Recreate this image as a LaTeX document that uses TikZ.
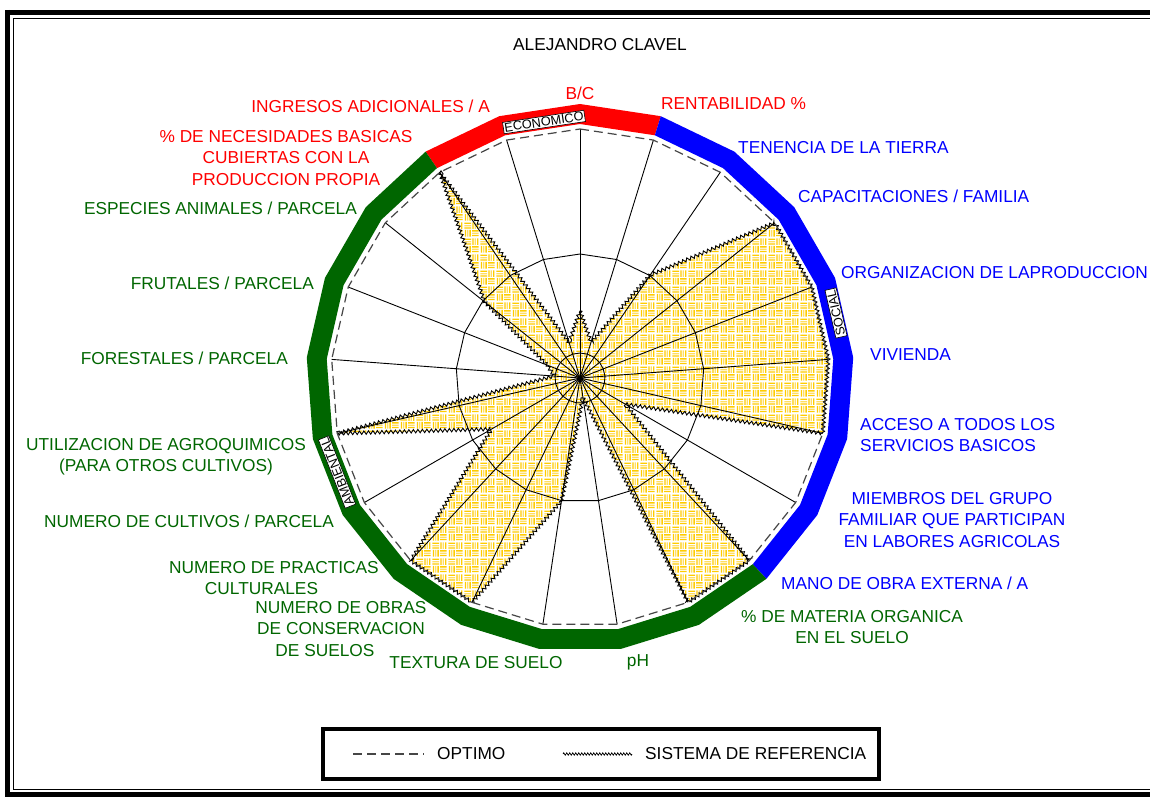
\documentclass[tikz,border=0pt]{standalone}
\usepackage{fontspec}
\setmainfont{Liberation Sans}
\usetikzlibrary{patterns,decorations.pathmorphing}

\definecolor{econred}{RGB}{255,0,0}
\definecolor{socblue}{RGB}{0,0,255}
\definecolor{ambgreen}{RGB}{0,102,0}
\definecolor{weaveyellow}{RGB}{255,204,0}
\definecolor{weavepale}{RGB}{255,222,100}
\definecolor{optgray}{RGB}{70,70,70}

% basket-weave fill: 2x2 blocks of three strokes, alternating direction
\pgfdeclarepatterninherentlycolored{weave}{\pgfpointorigin}{\pgfpoint{16pt}{16pt}}{\pgfpoint{16pt}{16pt}}{%
  \pgfsetfillcolor{white}%
  \pgfpathrectangle{\pgfpointorigin}{\pgfpoint{16pt}{16pt}}\pgfusepath{fill}%
  \pgfsetlinewidth{1.4pt}%
  \pgfsetstrokecolor{weaveyellow}%
  \pgfpathmoveto{\pgfpoint{1.5pt}{0.5pt}}\pgfpathlineto{\pgfpoint{1.5pt}{7.5pt}}%
  \pgfpathmoveto{\pgfpoint{6.5pt}{0.5pt}}\pgfpathlineto{\pgfpoint{6.5pt}{7.5pt}}%
  \pgfpathmoveto{\pgfpoint{9.5pt}{8.5pt}}\pgfpathlineto{\pgfpoint{9.5pt}{15.5pt}}%
  \pgfpathmoveto{\pgfpoint{14.5pt}{8.5pt}}\pgfpathlineto{\pgfpoint{14.5pt}{15.5pt}}%
  \pgfpathmoveto{\pgfpoint{8.5pt}{1.5pt}}\pgfpathlineto{\pgfpoint{15.5pt}{1.5pt}}%
  \pgfpathmoveto{\pgfpoint{8.5pt}{6.5pt}}\pgfpathlineto{\pgfpoint{15.5pt}{6.5pt}}%
  \pgfpathmoveto{\pgfpoint{0.5pt}{9.5pt}}\pgfpathlineto{\pgfpoint{7.5pt}{9.5pt}}%
  \pgfpathmoveto{\pgfpoint{0.5pt}{14.5pt}}\pgfpathlineto{\pgfpoint{7.5pt}{14.5pt}}%
  \pgfusepath{stroke}%
  \pgfsetstrokecolor{weavepale}%
  \pgfpathmoveto{\pgfpoint{4pt}{0.5pt}}\pgfpathlineto{\pgfpoint{4pt}{7.5pt}}%
  \pgfpathmoveto{\pgfpoint{12pt}{8.5pt}}\pgfpathlineto{\pgfpoint{12pt}{15.5pt}}%
  \pgfpathmoveto{\pgfpoint{8.5pt}{4pt}}\pgfpathlineto{\pgfpoint{15.5pt}{4pt}}%
  \pgfpathmoveto{\pgfpoint{0.5pt}{12pt}}\pgfpathlineto{\pgfpoint{7.5pt}{12pt}}%
  \pgfusepath{stroke}%
}

\tikzset{
  lab/.style={font=\fontsize{17.3}{21.3}\selectfont, inner sep=0pt},
  eco/.style={lab, text=econred},
  soc/.style={lab, text=socblue},
  amb/.style={lab, text=ambgreen},
  dimtag/.style={draw=black, fill=white, line width=0.6pt, inner sep=1.2pt,
                 font=\fontsize{12.7}{13}\selectfont},
  spoke/.style={black, line width=0.9pt},
  ring/.style={black, line width=0.9pt},
  optimo/.style={optgray, line width=1.2pt, dash pattern=on 9pt off 5pt},
  refline/.style={black, line width=0.9pt, decorate,
                  decoration={zigzag, segment length=4.5pt, amplitude=1.7pt}},
  frameheavy/.style={black, line width=5pt},
  framelight/.style={black, line width=1.6pt},
}

\begin{document}
\begin{tikzpicture}[x=1pt, y=-1pt]
\useasboundingbox (0,0) rectangle (1150,797);
\fill[white] (0,0) rectangle (1150,797);

% double frame of the chart area
\draw[frameheavy] (5,12.5) -- (1150,12.5);
\draw[frameheavy] (7.5,10) -- (7.5,797);
\draw[frameheavy] (5,794.5) -- (1150,794.5);
\draw[framelight] (13.5,18.5) -- (1150,18.5);
\draw[framelight] (13.5,18.5) -- (13.5,789.5) -- (1150,789.5);

\coordinate (ctr) at (580,378);

% geometry of the 21 axes (clockwise from the top)
\begin{scope}[shift={(580,378)}, yscale=-1]
  \foreach \k in {0,...,20} {
    \coordinate (ax\k) at ({90-\k*360/21}:249);
    \coordinate (bi\k) at ({90-\k*360/21}:254);
    \coordinate (bo\k) at ({90-\k*360/21}:274);
    \coordinate (ra\k) at ({90-\k*360/21}:124);
    \coordinate (rb\k) at ({90-\k*360/21}:25);
  }
  \foreach \v [count=\i from 0] in
    {0.27,0.15,0.50,1,1,1,1,0.21,1,1,0.08,0.50,1,1,0.41,1,0.105,0.14,0.49,1,0.15}
    \coordinate (d\i) at ({90-\i*360/21}:{\v*249});
\end{scope}

% dimension bands
\fill[econred] (bo19) -- (bo20) -- (bo0) -- (bo1) -- (bi1) -- (bi0) -- (bi20) -- (bi19) -- cycle;
\fill[socblue] (bo1) \foreach \k in {2,...,8} {-- (bo\k)} -- (bi8)
               \foreach \k in {7,6,...,1} {-- (bi\k)} -- cycle;
\fill[ambgreen] (bo8) \foreach \k in {9,...,19} {-- (bo\k)} -- (bi19)
               \foreach \k in {18,17,...,8} {-- (bi\k)} -- cycle;

% farm profile
\fill[pattern=weave] (d0) \foreach \k in {1,...,20} {-- (d\k)} -- cycle;
\draw[refline] (d0) \foreach \k in {1,...,20} {-- (d\k)} -- cycle;

% grid
\foreach \k in {0,...,20} \draw[spoke] (ctr) -- (ax\k);
\draw[ring] (ra0) \foreach \k in {1,...,20} {-- (ra\k)} -- cycle;
\draw[ring] (rb0) \foreach \k in {1,...,20} {-- (rb\k)} -- cycle;
\draw[optimo] (ax0) \foreach \k in {1,...,20} {-- (ax\k)} -- cycle;

% dimension tags on the bands
\node[dimtag, rotate=8.57] (tagEco) at (544,122) {ECONOMICO};
\node[dimtag, rotate=102.86] (tagSoc) at (836,313) {SOCIAL};
\node[dimtag, rotate=111.43] (tagAmb) at (337,472) {AMBIENTAL};

% title
\node[lab] (title) at (600,45) {ALEJANDRO CLAVEL};

% economic indicators
\node[eco] (lBC) at (580,93) {B/C};
\node[eco, anchor=west] (lRent) at (661,104) {RENTABILIDAD \%};
\node[eco, anchor=east] (lIngr) at (490,106) {INGRESOS ADICIONALES / A};
\node[eco, align=center] (lNec) at (286,158) {\% DE NECESIDADES BASICAS\\CUBIERTAS CON LA\\PRODUCCION PROPIA};

% social indicators
\node[soc, anchor=west] (lTen) at (738,148) {TENENCIA DE LA TIERRA};
\node[soc, anchor=west] (lCap) at (798,196) {CAPACITACIONES / FAMILIA};
\node[soc, anchor=west] (lOrg) at (841,273) {ORGANIZACION DE LAPRODUCCION};
\node[soc, anchor=west] (lViv) at (870,355) {VIVIENDA};
\node[soc, anchor=west, align=left] (lAcc) at (860,435) {ACCESO A TODOS LOS\\SERVICIOS BASICOS};
\node[soc, align=center] (lMiem) at (952,520) {MIEMBROS DEL GRUPO\\FAMILIAR QUE PARTICIPAN\\EN LABORES AGRICOLAS};
\node[soc, anchor=west] (lMano) at (781,583) {MANO DE OBRA EXTERNA / A};

% environmental indicators
\node[amb, align=center] (lMat) at (852,627) {\% DE MATERIA ORGANICA\\EN EL SUELO};
\node[amb] (lPh) at (638,662) {pH};
\node[amb] (lText) at (476,663) {TEXTURA DE SUELO};
\node[amb, align=center] (lObras) at (341,629) {NUMERO DE OBRAS\\DE CONSERVACION\\DE SUELOS\hspace*{32pt}};
\node[amb, align=center] (lPract) at (274,578) {NUMERO DE PRACTICAS\\CULTURALES\hspace*{25pt}};
\node[amb, anchor=east] (lCult) at (334,521) {NUMERO DE CULTIVOS / PARCELA};
\node[amb, align=center] (lAgro) at (166,457) {UTILIZACION DE AGROQUIMICOS\\(PARA OTROS CULTIVOS)};
\node[amb, anchor=east] (lFor) at (288,358) {FORESTALES / PARCELA};
\node[amb, anchor=east] (lFru) at (314,283) {FRUTALES / PARCELA};
\node[amb, anchor=east] (lEsp) at (357,208) {ESPECIES ANIMALES / PARCELA};

% legend
\node[draw=black, line width=3.5pt, minimum width=556pt, minimum height=50pt, inner sep=0pt]
  (legend) at (601,754) {};
\coordinate (optA) at (353,754);
\coordinate (optB) at (424,754);
\draw[optgray, line width=1.2pt, dash pattern=on 9pt off 5pt] (optA) -- (optB);
\node[lab, anchor=west] (legOpt) at (437,754) {OPTIMO};
\coordinate (refA) at (563,754);
\coordinate (refB) at (632,754);
\draw[black, line width=0.7pt, decorate, decoration={zigzag, segment length=3pt, amplitude=1.2pt}] (refA) -- (refB);
\node[lab, anchor=west] (legRef) at (645,754) {SISTEMA DE REFERENCIA};
\end{tikzpicture}
\end{document}
